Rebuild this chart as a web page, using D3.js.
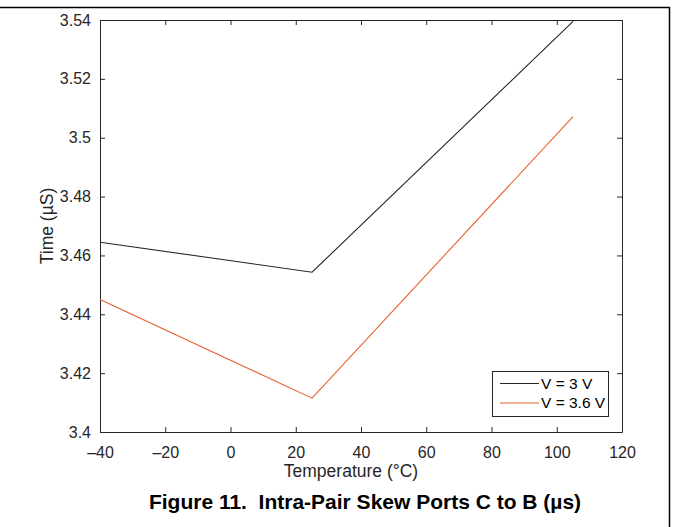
<!DOCTYPE html>
<html><head><meta charset="utf-8">
<script src="https://cdn.jsdelivr.net/npm/d3@7"></script>
<style>body{margin:0;background:#fff;}svg{display:block;font-family:"Liberation Sans",Arial,sans-serif;}</style>
</head><body><svg id="c" width="673" height="527"></svg>
<script>
const temps = [-40, 25, 105];
const series3V = [3.4645, 3.4543, 3.5395];
const series36V = [3.445, 3.4115, 3.5072];
const seriesNames = ["V = 3 V", "V = 3.6 V"];
const seriesColors = ["#262626", "#e8602c"];
const xTicks = [-40, -20, 0, 20, 40, 60, 80, 100, 120];
const yTicks = [3.4, 3.42, 3.44, 3.46, 3.48, 3.5, 3.52, 3.54];

const svg = d3.select("#c");
const L = 100, R = 622, T = 20, B = 432;
const x = d3.scaleLinear().domain([-40, 120]).range([L, R]);
const y = d3.scaleLinear().domain([3.4, 3.54]).range([B, T]);
const axisCol = "#262626";

// outer frame
svg.append("line").attr("x1",0).attr("x2",670).attr("y1",7.5).attr("y2",7.5).attr("stroke","#000").attr("stroke-width",1.5);
svg.append("line").attr("x1",669.5).attr("x2",669.5).attr("y1",7).attr("y2",527).attr("stroke","#000").attr("stroke-width",1.5);

const fmtX = d => d < 0 ? "\u2013" + Math.abs(d) : String(d);
const fmtY = d => String(+d.toFixed(2));

const gx = svg.append("g").attr("transform",`translate(0,${B})`)
  .call(d3.axisBottom(x).tickValues(xTicks).tickSize(-5).tickSizeOuter(0).tickPadding(15).tickFormat(fmtX));
const gxt = svg.append("g").attr("transform",`translate(0,${T})`)
  .call(d3.axisTop(x).tickValues(xTicks).tickSize(-5).tickSizeOuter(0).tickFormat(""));
const gy = svg.append("g").attr("transform",`translate(${L},0)`)
  .call(d3.axisLeft(y).tickValues(yTicks).tickSize(-5).tickSizeOuter(0).tickPadding(9).tickFormat(fmtY));
const gyr = svg.append("g").attr("transform",`translate(${R},0)`)
  .call(d3.axisRight(y).tickValues(yTicks).tickSize(-5).tickSizeOuter(0).tickFormat(""));
[gx,gxt,gy,gyr].forEach(g=>{
  g.attr("font-size",16).attr("font-family","'Liberation Sans',Arial,sans-serif");
  g.select(".domain").attr("stroke",axisCol).attr("stroke-width",1);
  g.selectAll(".tick line").attr("stroke",axisCol);
  g.selectAll(".tick text").attr("fill",axisCol);
});

const line = d3.line().x((d,i)=>x(temps[i])).y(d=>y(d));
[series3V, series36V].forEach((s,k)=>{
  svg.append("path").datum(s).attr("d",line).attr("fill","none").attr("stroke",seriesColors[k]).attr("stroke-width",1.1);
});

// axis labels
svg.append("text").attr("x",351).attr("y",477).attr("text-anchor","middle").attr("fill",axisCol).attr("font-size",17.5).text("Temperature (\u00B0C)");
svg.append("text").attr("transform",`translate(53,${(T+B)/2}) rotate(-90)`).attr("text-anchor","middle").attr("fill",axisCol).attr("font-size",17.5).text("Time (\u00B5S)");

// title
svg.append("text").attr("x",365).attr("y",509).attr("text-anchor","middle").attr("fill","#000").attr("font-size",21).attr("font-weight","bold").style("white-space","pre").text("Figure 11.  Intra-Pair Skew Ports C to B (\u00B5s)");

// legend
const lg = svg.append("g");
lg.append("rect").attr("x",492.5).attr("y",371.5).attr("width",116).attr("height",45).attr("fill","#fff").attr("stroke",axisCol).attr("stroke-width",1);
seriesNames.forEach((n,k)=>{
  const yy = 383.5 + k*19.5;
  lg.append("line").attr("x1",500).attr("x2",539).attr("y1",yy).attr("y2",yy).attr("stroke",seriesColors[k]).attr("stroke-width",1.1);
  lg.append("text").attr("x",541).attr("y",yy+5).attr("fill","#000").attr("font-size",15.5).text(n);
});
</script></body></html>
